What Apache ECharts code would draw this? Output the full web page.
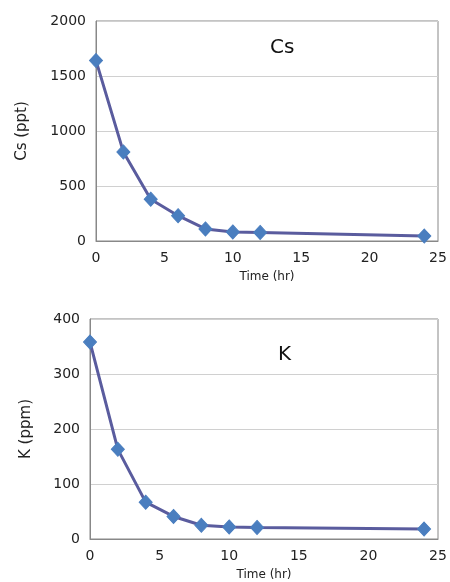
<!DOCTYPE html>
<html><head><meta charset="utf-8">
<script src="https://cdn.jsdelivr.net/npm/echarts@6/dist/echarts.min.js"></script>
<style>html,body{margin:0;padding:0;background:#fff}#c{width:450px;height:582px}</style>
</head><body><div id="c"></div>
<script>
const timeHr = [0, 2, 4, 6, 8, 10, 12, 24];
const csPpt = [1640, 810, 380, 230, 110, 82, 78, 45];
const kPpm = [358, 163, 67, 41, 25, 22, 21, 18];
const xTicks = [0, 25, 5];      // min, max, interval
const csTicks = [0, 2000, 500];
const kTicks = [0, 400, 100];

const FONT = 'DejaVu Sans';
const chart = echarts.init(document.getElementById('c'));
function xAxis(gi, gap) {
  return {
    type: 'value', gridIndex: gi, min: xTicks[0], max: xTicks[1], interval: xTicks[2],
    name: 'Time (hr)', nameLocation: 'middle', nameGap: gap,
    nameTextStyle: {fontFamily: FONT, fontSize: 12, color: '#222'},
    axisLine: {show: true, lineStyle: {color: '#888', width: 1}},
    axisTick: {show: false},
    axisLabel: {fontFamily: FONT, fontSize: 14, color: '#222', margin: 10, formatter: v => String(v)},
    splitLine: {show: false}
  };
}
function yAxis(gi, name, t, gap) {
  return {
    type: 'value', gridIndex: gi, min: t[0], max: t[1], interval: t[2],
    name: name, nameLocation: 'middle', nameGap: gap,
    nameTextStyle: {fontFamily: FONT, fontSize: 15, color: '#222'},
    axisLine: {show: true, lineStyle: {color: '#888', width: 1}},
    axisTick: {show: false},
    axisLabel: {fontFamily: FONT, fontSize: 14, color: '#222', margin: 10, formatter: v => String(v)},
    splitLine: {show: true, lineStyle: {color: '#d0d0d0', width: 1}}
  };
}
function series(gi, vals) {
  return {
    type: 'line', xAxisIndex: gi, yAxisIndex: gi,
    data: timeHr.map((t, i) => [t, vals[i]]),
    symbol: 'diamond', symbolSize: [13, 14],
    lineStyle: {color: '#5a5c9e', width: 3},
    itemStyle: {color: '#4a7ebf', borderColor: '#4a7ebf'},
    animation: false
  };
}
chart.setOption({
  animation: false,
  grid: [
    {left: 96, right: 12, top: 21, height: 220, show: true, borderColor: '#888', borderWidth: 1},
    {left: 90, right: 12, top: 319, height: 220, show: true, borderColor: '#888', borderWidth: 1}
  ],
  xAxis: [xAxis(0, 30), xAxis(1, 30)],
  yAxis: [yAxis(0, 'Cs (ppt)', csTicks, 66), yAxis(1, 'K (ppm)', kTicks, 56)],
  series: [series(0, csPpt), series(1, kPpm)],
  graphic: [
    {type: 'text', left: 270, top: 38, style: {text: 'Cs', font: '20px ' + FONT, fill: '#111'}},
    {type: 'text', left: 278, top: 345, style: {text: 'K', font: '20px ' + FONT, fill: '#111'}}
  ]
});
</script></body></html>
